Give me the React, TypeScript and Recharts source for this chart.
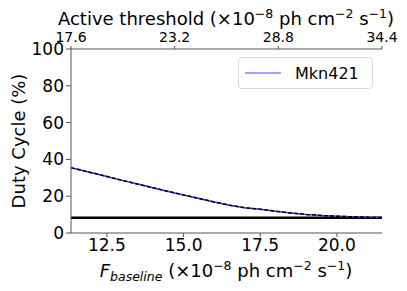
import React from 'react';
import { LineChart, Line, XAxis, YAxis, ReferenceLine } from 'recharts';

const fBaseline = [11.33, 12.0, 12.5, 13.0, 13.5, 14.0, 14.5, 15.0, 15.5, 16.0, 16.5, 17.0, 17.5, 18.0, 18.5, 19.0, 19.5, 20.0, 20.5, 21.0, 21.47];
const dutyCycle = [35.5, 32.8, 30.7, 28.6, 26.6, 24.6, 22.6, 20.7, 18.8, 16.9, 15.1, 13.7, 12.9, 11.8, 10.9, 10.1, 9.5, 9.1, 8.8, 8.5, 8.4];
const bottomTicks = [12.5, 15.0, 17.5, 20.0];
const topTicks = [17.6, 23.2, 28.8, 34.4];
const yTicks = [0, 20, 40, 60, 80, 100];
const constantLevel = 8.3;
const seriesName = 'Mkn421';

const data = fBaseline.map((x, i) => ({ x, duty: dutyCycle[i] }));
const topData = topTicks.map((t) => ({ t, hidden: 50 }));

const FONT = 'DejaVu Sans';

const XLabel = () => (
  <text x={226} y={277} textAnchor="middle" fontFamily={FONT} fontSize={18} fill="#000">
    <tspan fontStyle="italic">F</tspan>
    <tspan fontStyle="italic" fontSize={12.5} dy={4}>baseline</tspan>
    <tspan dy={-4}> (×10</tspan>
    <tspan fontSize={12.5} dy={-7}>−8</tspan>
    <tspan dy={7}> ph cm</tspan>
    <tspan fontSize={12.5} dy={-7}>−2</tspan>
    <tspan dy={7}> s</tspan>
    <tspan fontSize={12.5} dy={-7}>−1</tspan>
    <tspan dy={7}>)</tspan>
  </text>
);

const TopLabel = () => (
  <text x={226} y={25} textAnchor="middle" fontFamily={FONT} fontSize={18} fill="#000">
    <tspan>Active threshold (×10</tspan>
    <tspan fontSize={12.5} dy={-7}>−8</tspan>
    <tspan dy={7}> ph cm</tspan>
    <tspan fontSize={12.5} dy={-7}>−2</tspan>
    <tspan dy={7}> s</tspan>
    <tspan fontSize={12.5} dy={-7}>−1</tspan>
    <tspan dy={7}>)</tspan>
  </text>
);

const YLabel = () => (
  <text x={0} y={0} transform="translate(25,141) rotate(-90)" textAnchor="middle" fontFamily={FONT} fontSize={18} fill="#000">
    Duty Cycle (%)
  </text>
);

const LegendBox = () => (
  <div
    style={{
      position: 'absolute',
      left: 238,
      top: 57,
      width: 135,
      height: 32,
      border: '1px solid #d9d9d9',
      borderRadius: 4,
      background: '#fff',
      display: 'flex',
      alignItems: 'center',
      fontFamily: FONT,
      fontSize: 16,
      color: '#000',
      boxSizing: 'border-box',
    }}
  >
    <svg width={44} height={10} style={{ marginLeft: 6 }}>
      <line x1={0} y1={5} x2={36} y2={5} stroke="#4646ff" strokeWidth={1.2} />
    </svg>
    <span style={{ marginLeft: 6 }}>{seriesName}</span>
  </div>
);

export default function App() {
  return (
    <div style={{ position: 'absolute', left: 0, top: 0, width: 407, height: 291, background: '#fff' }}>
      <LineChart width={407} height={291} data={data} margin={{ top: 29, right: 25, bottom: 28, left: 21 }}>
        <XAxis
          xAxisId="bottom"
          dataKey="x"
          type="number"
          domain={[11.33, 21.47]}
          allowDataOverflow
          ticks={bottomTicks}
          tickFormatter={(v: number) => v.toFixed(1)}
          height={30}
          stroke="#555"
          tickSize={4}
          tick={{ fill: '#000', fontSize: 17, fontFamily: FONT }}
          label={<XLabel />}
        />
        <XAxis
          xAxisId="top"
          dataKey="t"
          orientation="top"
          type="number"
          domain={[17.6, 34.4]}
          allowDataOverflow
          ticks={topTicks}
          tickFormatter={(v: number) => v.toFixed(1)}
          height={20}
          stroke="#555"
          tickSize={3}
          tick={{ fill: '#000', fontSize: 14, fontFamily: FONT, dy: -2 }}
          label={<TopLabel />}
        />
        <YAxis
          yAxisId="left"
          type="number"
          domain={[0, 100]}
          ticks={yTicks}
          width={50}
          stroke="#555"
          tickSize={5}
          tick={{ fill: '#000', fontSize: 17, fontFamily: FONT }}
          label={<YLabel />}
        />
        <YAxis yAxisId="right" orientation="right" width={0} tick={false} tickLine={false} stroke="#555" domain={[0, 100]} />
        <ReferenceLine xAxisId="bottom" yAxisId="left" y={constantLevel} stroke="#000" strokeWidth={2.5} />
        <Line
          xAxisId="top"
          yAxisId="right"
          data={topData}
          dataKey="hidden"
          stroke="none"
          dot={false}
          activeDot={false}
          legendType="none"
          isAnimationActive={false}
        />
        <Line
          xAxisId="bottom"
          yAxisId="left"
          dataKey="duty"
          name={seriesName}
          stroke="#3a3aff"
          strokeWidth={1.5}
          dot={false}
          isAnimationActive={false}
        />
        <Line
          xAxisId="bottom"
          yAxisId="left"
          dataKey="duty"
          name="fit"
          stroke="#000"
          strokeWidth={1.5}
          strokeDasharray="4 2"
          dot={false}
          legendType="none"
          isAnimationActive={false}
        />
      </LineChart>
      <LegendBox />
    </div>
  );
}
